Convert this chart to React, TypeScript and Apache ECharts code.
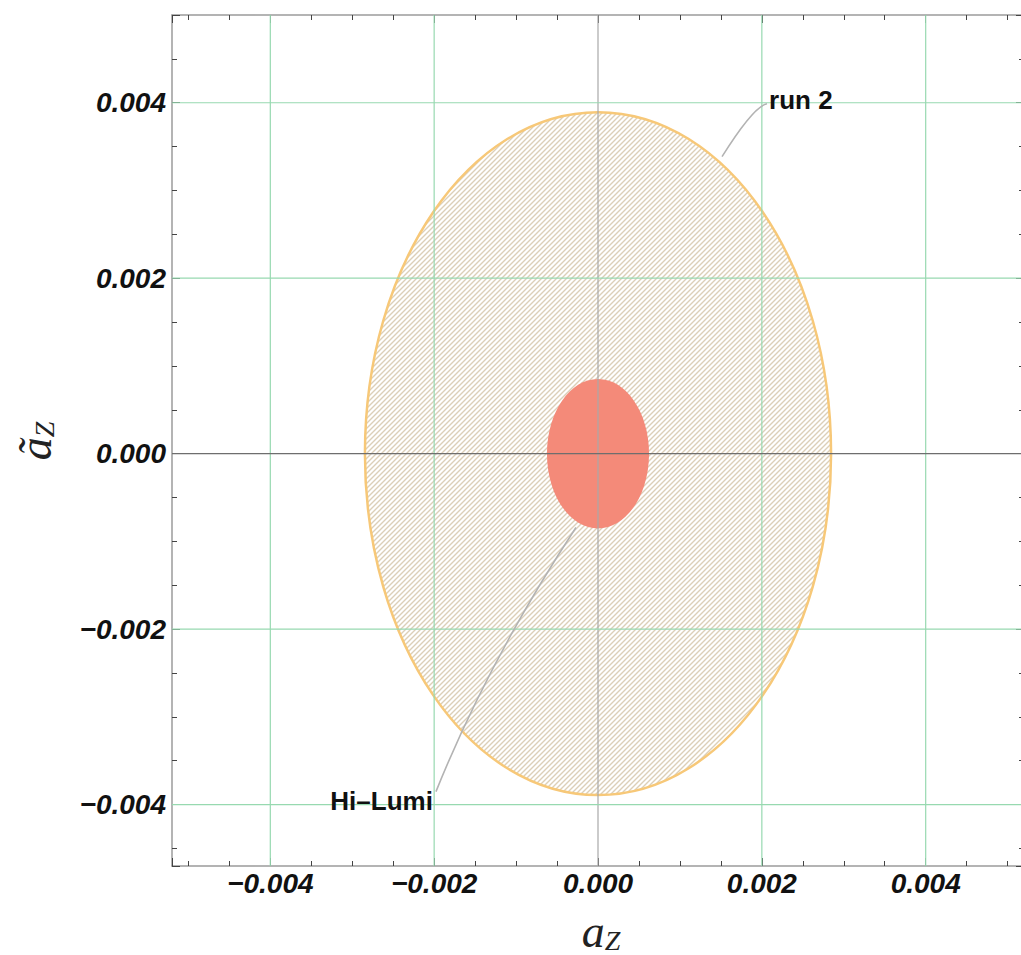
import { useEffect, useRef } from 'react';
import * as echarts from 'echarts';

// ---- axis ranges & ticks ----
const X_MIN = -0.0052;
const X_MAX = 0.0052;
const Y_MIN = -0.0047;
const Y_MAX = 0.005;
const xTickValues = [-0.004, -0.002, 0, 0.002, 0.004];
const xTickLabels = ['−0.004', '−0.002', '0.000', '0.002', '0.004'];
const yTickValues = [-0.004, -0.002, 0, 0.002, 0.004];
const yTickLabels = ['−0.004', '−0.002', '0.000', '0.002', '0.004'];
const gridXValues = [-0.004, -0.002, 0.002, 0.004];
const gridYValues = [-0.004, -0.002, 0.002, 0.004];

// ---- regions: [centerX, centerY, semiAxisX, semiAxisY] ----
const run2Region = [0, 0, 0.002845, 0.003892];
const hiLumiRegion = [0, 0, 0.000623, 0.000852];

// ---- annotations ----
const annotationNames = ['run 2', 'Hi–Lumi'];
const annotationFrom = [[0.001514, 0.003386], [-0.000269, -0.000841]];
const annotationTo = [[0.002063, 0.003989], [-0.001978, -0.003852]];
const annotationTextAt = [[0.002088, 0.004034], [-0.002015, -0.003955]];

const hatchSvg =
  "<svg xmlns='http://www.w3.org/2000/svg' width='5' height='5'><path d='M-1,6 L6,-1 M-1,1 L1,-1 M4,6 L6,4' stroke='#dccfb8' stroke-width='1.4' fill='none'/></svg>";
const hatchUrl = 'data:image/svg+xml;charset=utf-8,' + encodeURIComponent(hatchSvg);

const fmt = (values: number[], labels: string[]) => (v: number) => {
  const i = values.findIndex((t) => Math.abs(t - v) < 1e-9);
  return i >= 0 ? labels[i] : '';
};

const labelFont = {
  fontFamily: 'Liberation Sans',
  fontWeight: 'bold' as const,
  fontStyle: 'italic' as const,
  fontSize: 28,
  color: '#111',
};

function makeAxis(kind: 'x' | 'y', position: string, showLabel: boolean) {
  const isX = kind === 'x';
  return {
    type: 'value',
    position,
    min: isX ? X_MIN : Y_MIN,
    max: isX ? X_MAX : Y_MAX,
    splitNumber: 5,
    axisLine: { onZero: false, lineStyle: { color: '#9b9b9b', width: 1.5 } },
    axisTick: { inside: true, length: 8, lineStyle: { color: '#444', width: 1 } },
    minorTick: { show: true, splitNumber: 4, length: 5, lineStyle: { color: '#444', width: 1 } },
    splitLine: { show: false },
    minorSplitLine: { show: false },
    axisLabel: showLabel
      ? {
          ...labelFont,
          showMinLabel: false,
          showMaxLabel: false,
          margin: isX ? 3 : 6,
          padding: isX ? 0 : [0, 0, 9, 0],
          formatter: isX ? fmt(xTickValues, xTickLabels) : fmt(yTickValues, yTickLabels),
        }
      : { show: false },
  };
}

const titleRich = {
  a: { fontFamily: 'Liberation Serif', fontStyle: 'italic', fontSize: 46, fill: '#222', verticalAlign: 'bottom', lineHeight: 40 },
  z: { fontFamily: 'Liberation Serif', fontStyle: 'italic', fontSize: 28, fill: '#222', verticalAlign: 'bottom', lineHeight: 26 },
};

const option: any = {
  animation: false,
  backgroundColor: '#ffffff',
  grid: { left: 172, top: 15, width: 852, height: 851 },
  xAxis: [makeAxis('x', 'bottom', true), makeAxis('x', 'top', false)],
  yAxis: [makeAxis('y', 'left', true), makeAxis('y', 'right', false)],
  graphic: [
    {
      type: 'text',
      x: 601,
      y: 954,
      style: {
        text: '{a|a}{z|Z}',
        align: 'center',
        verticalAlign: 'bottom',
        rich: titleRich,
      },
    },
    {
      type: 'text',
      x: 38,
      y: 441,
      rotation: Math.PI / 2,
      style: {
        text: '{a|ã}{z|Z}',
        align: 'center',
        verticalAlign: 'middle',
        rich: titleRich,
      },
    },
  ],
  series: [
    {
      type: 'custom',
      name: 'regions',
      z: 2,
      silent: true,
      data: [run2Region, hiLumiRegion],
      encode: { x: 0, y: 1 },
      renderItem: (params: any, api: any) => {
        const c = api.coord([api.value(0), api.value(1)]);
        const s = api.size([api.value(2), api.value(3)]);
        const isRun2 = params.dataIndex === 0;
        return {
          type: 'ellipse',
          shape: { cx: c[0], cy: c[1], rx: s[0], ry: s[1] },
          style: isRun2
            ? {
                fill: { image: hatchUrl, repeat: 'repeat', imageWidth: 5, imageHeight: 5 },
                stroke: '#f7c878',
                lineWidth: 2.5,
              }
            : { fill: '#f48a79', stroke: 'none', lineWidth: 0 },
        };
      },
    },
    {
      type: 'custom',
      name: 'gridX',
      z: 3,
      silent: true,
      data: gridXValues.concat([0]).map((v) => [v]),
      encode: { x: 0 },
      renderItem: (params: any, api: any) => {
        const v = api.value(0);
        const p1 = api.coord([v, Y_MIN]);
        const p2 = api.coord([v, Y_MAX]);
        const zero = Math.abs(v) < 1e-12;
        return {
          type: 'line',
          shape: { x1: p1[0], y1: p1[1], x2: p2[0], y2: p2[1] },
          style: { stroke: zero ? '#a8a8a8' : '#97d9b0', lineWidth: 1.2 },
        };
      },
    },
    {
      type: 'custom',
      name: 'gridY',
      z: 3,
      silent: true,
      data: gridYValues.concat([0]).map((v) => [v]),
      encode: { y: 0 },
      renderItem: (params: any, api: any) => {
        const v = api.value(0);
        const p1 = api.coord([X_MIN, v]);
        const p2 = api.coord([X_MAX, v]);
        const zero = Math.abs(v) < 1e-12;
        return {
          type: 'line',
          shape: { x1: p1[0], y1: p1[1], x2: p2[0], y2: p2[1] },
          style: { stroke: zero ? '#6e6e6e' : '#97d9b0', lineWidth: 1.2 },
        };
      },
    },
    {
      type: 'custom',
      name: 'annotations',
      z: 4,
      silent: true,
      data: annotationNames.map((_, i) => [
        annotationFrom[i][0], annotationFrom[i][1],
        annotationTo[i][0], annotationTo[i][1],
        annotationTextAt[i][0], annotationTextAt[i][1],
      ]),
      encode: { x: 0, y: 1 },
      renderItem: (params: any, api: any) => {
        const i = params.dataIndex;
        const a = api.coord([api.value(0), api.value(1)]);
        const b = api.coord([api.value(2), api.value(3)]);
        const t = api.coord([api.value(4), api.value(5)]);
        const dx = b[0] - a[0];
        const dy = b[1] - a[1];
        const cp = i === 0 ? [a[0] + 0.7 * dx, a[1] + 0.95 * dy] : [a[0] + 0.62 * dx, a[1] + 0.5 * dy];
        return {
          type: 'group',
          children: [
            {
              type: 'bezierCurve',
              shape: { x1: a[0], y1: a[1], x2: b[0], y2: b[1], cpx1: cp[0], cpy1: cp[1] },
              style: { stroke: '#b3b3b3', lineWidth: 1.6, fill: 'none' },
            },
            {
              type: 'text',
              x: t[0],
              y: t[1],
              style: {
                text: annotationNames[i],
                fontFamily: 'Liberation Sans',
                fontWeight: 'bold',
                fontSize: 26,
                fill: '#111',
                align: i === 0 ? 'left' : 'right',
                verticalAlign: 'middle',
              },
            },
          ],
        };
      },
    },
  ],
};

export default function App() {
  const ref = useRef<HTMLDivElement>(null);
  useEffect(() => {
    const chart = echarts.init(ref.current!, null, { renderer: 'svg' });
    chart.setOption(option);
    return () => chart.dispose();
  }, []);
  return (
    <div
      style={{
        position: 'fixed',
        left: 0,
        top: 0,
        width: 1021,
        height: 955,
        overflow: 'hidden',
        background: '#fff',
      }}
    >
      <div ref={ref} style={{ width: 1030, height: 955 }} />
    </div>
  );
}
